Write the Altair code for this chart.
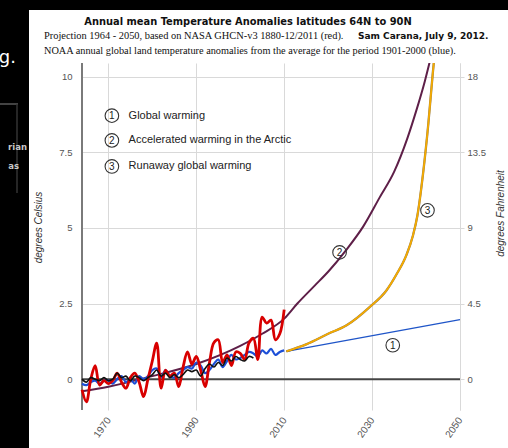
import altair as alt
import pandas as pd

# ---------------- data ----------------
obs_years = list(range(1964, 2011))
# NASA GHCN-v3 annual anomalies, 64N-90N (degrees C)
arctic_obs = [-0.35, -0.75, 0.0, 0.45, -0.2, -0.05, -0.15, -0.05, 0.2, -0.1,
              -0.3, 0.05, 0.2, -0.1, -0.58, 0.0, 0.6, 1.19, -0.3, 0.3,
              0.1, 0.2, -0.25, 0.4, 0.9, 0.5, 0.75, 0.3, -0.25, 0.55,
              1.2, 1.3, 0.55, 0.8, 0.45, 0.9, 0.85, 0.65, 1.2, 1.35,
              0.65, 2.05, 1.85, 1.95, 1.3, 1.5, 2.3]
# NOAA annual global land anomalies vs 1901-2000 (degrees C)
noaa_land = [-0.15, -0.2, -0.1, -0.05, -0.15, -0.05, -0.05, -0.15, 0.0, 0.1,
             -0.1, 0.0, -0.15, 0.1, 0.0, 0.1, 0.3, 0.35, 0.05, 0.3,
             0.1, 0.05, 0.2, 0.3, 0.4, 0.35, 0.55, 0.45, 0.2, 0.3,
             0.5, 0.65, 0.4, 0.6, 0.8, 0.65, 0.7, 0.8, 0.9, 0.85,
             0.75, 0.95, 0.85, 1.0, 0.8, 0.9, 0.95]
smooth_years = list(range(1964, 2004))
smooth_vals = [0.0, -0.1, 0.05, 0.0, -0.05, 0.05, -0.05, 0.0, 0.2, 0.05,
               0.1, -0.05, 0.1, 0.05, -0.05, 0.05, 0.15, 0.3, 0.1, 0.2,
               0.05, 0.15, 0.05, 0.15, 0.3, 0.25, 0.3, 0.1, 0.35, 0.5,
               0.4, 0.55, 0.45, 0.7, 0.6, 0.75, 0.65, 0.6, 0.75, 0.7]

# projections
global_years = [2010.5, 2050]
global_vals = [0.92, 1.97]
accel_years = [1964, 1970, 1980, 1990, 2000, 2005, 2010, 2013, 2017, 2020,
               2024, 2028, 2031.7, 2035, 2038, 2040, 2042, 2043.3]
accel_vals = [-0.4, -0.25, 0.1, 0.5, 1.1, 1.5, 2.0, 2.5, 3.1, 3.55,
              4.25, 5.05, 6.0, 6.85, 7.95, 8.85, 9.85, 10.6]
runaway_years = [2010.5, 2015, 2020, 2024.2, 2029.5, 2033.3, 2035.5, 2037.8,
                 2039.3, 2040.3, 2041.6, 2042.8, 2043.8, 2044.2]
runaway_vals = [0.92, 1.15, 1.5, 1.78, 2.39, 2.94, 3.45, 4.1,
                4.75, 5.4, 6.8, 8.45, 10.1, 10.7]

legend_nums = ["1", "2", "3"]
legend_text = ["Global warming", "Accelerated warming in the Arctic",
               "Runaway global warming"]
legend_year = [1970.8, 1970.8, 1970.8]
legend_val = [8.71, 7.89, 7.03]
legend_text_year = 1974.6

curve_tag_nums = ["1", "2", "3"]
curve_tag_year = [2034.7, 2022.6, 2042.6]
curve_tag_val = [1.12, 4.19, 5.58]

c_ticks = [0, 2.5, 5, 7.5, 10]
f_ticks = [0, 4.5, 9, 13.5, 18]
year_ticks = [1970, 1990, 2010, 2030, 2050]

# ---------------- scales ----------------
Y_DOM = [-1.02, 10.45]
X_DOM = [1964, 2050]
X_SCALE = alt.Scale(domain=X_DOM, nice=False, zero=False)
Y_SCALE = alt.Scale(domain=Y_DOM, nice=False, zero=False)
F_SCALE = alt.Scale(domain=[Y_DOM[0] * 1.8, Y_DOM[1] * 1.8], nice=False, zero=False)

SANS = "Liberation Sans"
SERIF = "Liberation Serif"

x_axis = alt.Axis(values=year_ticks, format="d", labelAngle=-55, labelAlign="right",
                  labelBaseline="middle", ticks=False, domain=False, grid=True,
                  gridColor="#d9d9d9", labelColor="#555", labelFont=SANS,
                  labelFontSize=10, labelPadding=8, title=None)
y_axis = alt.Axis(values=c_ticks, format=".2~f", ticks=False, grid=True, gridColor="#d9d9d9",
                  domain=False, labelColor="#555", labelFont=SANS,
                  labelFontSize=9.5, labelPadding=10, title="degrees Celsius",
                  titleFont=SANS, titleFontStyle="italic", titleFontWeight="normal",
                  titleFontSize=10, titleColor="#333", titleX=-44, titleY=164,
                  titleAngle=-90, titleBaseline="middle", titleAlign="center")

X = lambda f: alt.X(f, type="quantitative", scale=X_SCALE, axis=x_axis)
Y = lambda f: alt.Y(f, type="quantitative", scale=Y_SCALE, axis=y_axis)

one = pd.DataFrame({"k": [0]})

# page frame around the figure
frame_top = alt.Chart(one).mark_rect(color="black").encode(
    x=alt.value(-82), x2=alt.value(426), y=alt.value(-63), y2=alt.value(-53))
frame_left = alt.Chart(one).mark_rect(color="black").encode(
    x=alt.value(-82), x2=alt.value(-53), y=alt.value(-63), y2=alt.value(385))
side_hline = alt.Chart(one).mark_rule(color="#5a5a5a", strokeWidth=1.5).encode(
    x=alt.value(-82), x2=alt.value(-64), y=alt.value(41))
side_vline = alt.Chart(one).mark_rule(color="#333", strokeWidth=1.5).encode(
    x=alt.value(-65), y=alt.value(41), y2=alt.value(130))
side_g = alt.Chart(one).mark_text(color="white", font="DejaVu Sans", fontSize=18,
                                  align="right", baseline="alphabetic").encode(
    x=alt.value(-66), y=alt.value(0), text=alt.value("g."))
side_a = alt.Chart(one).mark_text(color="#c8c8c8", font="DejaVu Sans", fontSize=8.5,
                                  fontWeight="bold", align="right", baseline="middle").encode(
    x=alt.value(-55), y=alt.value(84), text=alt.value("rian"))
side_b = alt.Chart(one).mark_text(color="#c8c8c8", font="DejaVu Sans", fontSize=8.5,
                                  fontWeight="bold", align="right", baseline="middle").encode(
    x=alt.value(-63), y=alt.value(103), text=alt.value("as"))

# heading
title = alt.Chart(one).mark_text(font="DejaVu Sans", fontWeight="bold", fontSize=9.9,
                                 color="#111", align="center", baseline="middle").encode(
    x=alt.value(166), y=alt.value(-41),
    text=alt.value("Annual mean Temperature Anomalies latitudes 64N to 90N"))
line2 = alt.Chart(one).mark_text(font=SERIF, fontSize=10.4, color="#111",
                                 align="left", baseline="middle").encode(
    x=alt.value(-38), y=alt.value(-27),
    text=alt.value("Projection 1964 - 2050, based on NASA GHCN-v3 1880-12/2011 (red)."))
author = alt.Chart(one).mark_text(font="DejaVu Sans", fontWeight="bold", fontSize=9,
                                  color="#111", align="left", baseline="middle").encode(
    x=alt.value(276), y=alt.value(-27), text=alt.value("Sam Carana, July 9, 2012."))
line3 = alt.Chart(one).mark_text(font=SERIF, fontSize=10.3, color="#111",
                                 align="left", baseline="middle").encode(
    x=alt.value(-38), y=alt.value(-12),
    text=alt.value("NOAA annual global land temperature anomalies from the average "
                   "for the period 1901-2000 (blue)."))

# axis line on the left and the zero line
left_edge = alt.Chart(pd.DataFrame({"x": [X_DOM[0]], "y0": [Y_DOM[0]], "y1": [Y_DOM[1]]})).mark_rule(
    color="#7a7a7a", strokeWidth=2).encode(x=X("x"), y=Y("y0"), y2="y1")
zero = alt.Chart(pd.DataFrame({"v": [0]})).mark_rule(color="#444", strokeWidth=2).encode(
    y=Y("v"))

obs = pd.DataFrame({"year": obs_years, "arctic": arctic_obs, "noaa": noaa_land})
smooth = pd.DataFrame({"year": smooth_years, "v": smooth_vals})
glob = pd.DataFrame({"year": global_years, "v": global_vals})
accel = pd.DataFrame({"year": accel_years, "v": accel_vals})
runaway = pd.DataFrame({"year": runaway_years, "v": runaway_vals})

accel_line = alt.Chart(accel).mark_line(color="#5e1f48", strokeWidth=2, interpolate="monotone",
                                        clip=True).encode(x=X("year"), y=Y("v"))
noaa_line = alt.Chart(obs).mark_line(color="#1c4fd8", strokeWidth=2.2,
                                     interpolate="catmull-rom").encode(x=X("year"), y=Y("noaa"))
red_line = alt.Chart(obs).mark_line(color="#d80000", strokeWidth=2.8,
                                    interpolate="catmull-rom").encode(x=X("year"), y=Y("arctic"))
smooth_line = alt.Chart(smooth).mark_line(color="#111", strokeWidth=1.6,
                                          interpolate="catmull-rom").encode(x=X("year"), y=Y("v"))
glob_line = alt.Chart(glob).mark_line(color="#1f55c8", strokeWidth=1.3).encode(
    x=X("year"), y=Y("v"))
runaway_edge = alt.Chart(runaway).mark_line(color="#5a4010", strokeWidth=2.3, opacity=0.7,
                                            interpolate="monotone", clip=True).encode(
    x=X("year"), y=Y("v"))
runaway_line = alt.Chart(runaway).mark_line(color="#f5ab00", strokeWidth=1.8, interpolate="monotone",
                                            clip=True).encode(x=X("year"), y=Y("v"))

# numbered key and tags on the curves
legend = pd.DataFrame({"year": legend_year, "v": legend_val, "num": legend_nums,
                       "label": legend_text, "ty": [legend_text_year] * 3})
tags = pd.DataFrame({"year": curve_tag_year, "v": curve_tag_val, "num": curve_tag_nums})

def circled(df):
    ring = alt.Chart(df).mark_point(shape="circle", filled=False, size=185, color="#333",
                                    strokeWidth=1.1, opacity=1).encode(x=X("year"), y=Y("v"))
    num = alt.Chart(df).mark_text(font=SANS, fontSize=10, color="#222", align="center",
                                  baseline="middle", dy=0.5).encode(
        x=X("year"), y=Y("v"), text="num:N")
    return ring + num

legend_labels = alt.Chart(legend).mark_text(font=SANS, fontSize=11, color="#222", align="left",
                                            baseline="middle").encode(
    x=X("ty"), y=Y("v"), text="label:N")

celsius = alt.layer(
    frame_top, frame_left, side_hline, side_vline, side_g, side_a, side_b,
    title, line2, author, line3,
    left_edge, zero, accel_line, noaa_line, red_line, smooth_line, glob_line,
    runaway_edge, runaway_line,
    circled(legend), legend_labels, circled(tags),
)

# Fahrenheit axis on the right
fahr = alt.Chart(pd.DataFrame({"f": [0]})).mark_point(opacity=0).encode(
    y=alt.Y("f:Q", scale=F_SCALE,
            axis=alt.Axis(orient="right", values=f_ticks, format=".2~f", grid=False,
                          tickColor="#d9d9d9", tickSize=4, domainColor="#d9d9d9",
                          labelColor="#555", labelFont=SANS, labelFontSize=9.5,
                          labelPadding=3, title="degrees Fahrenheit", titleFont=SANS,
                          titleFontStyle="italic", titleFontWeight="normal",
                          titleFontSize=10, titleColor="#333", titleX=40, titleY=150,
                          titleAngle=-90, titleBaseline="middle", titleAlign="center")))

chart = alt.layer(celsius, fahr).resolve_scale(y="independent").properties(
    width=378, height=347,
    autosize=alt.AutoSizeParams(type="none"),
    padding={"left": 82, "top": 63, "right": 48, "bottom": 38},
    background="white",
).configure_view(stroke=None)

chart.save("out.html", embed_options={"renderer": "svg", "actions": False})
